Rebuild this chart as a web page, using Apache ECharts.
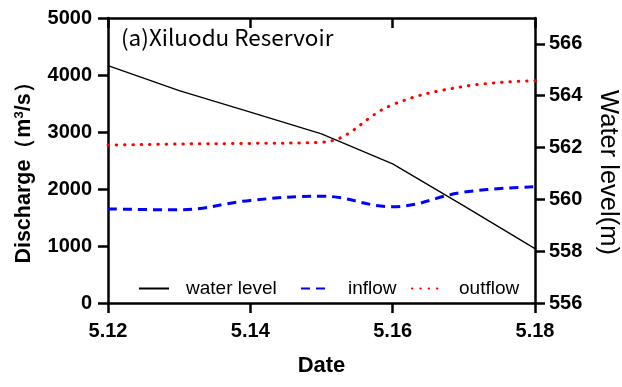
<!DOCTYPE html>
<html>
<head>
<meta charset="utf-8">
<script src="https://cdn.jsdelivr.net/npm/echarts@6/dist/echarts.min.js"></script>
<style>
  html, body { margin: 0; padding: 0; background: #fff; }
  #chart { width: 622px; height: 387px; }
</style>
</head>
<body>
<div id="chart"></div>
<script>
// Daily observations, Xiluodu Reservoir
const dates = ['5.12', '5.13', '5.14', '5.15', '5.16', '5.17', '5.18'];
const waterLevel = [565.16, 564.2, 563.37, 562.53, 561.37, 559.75, 558.1]; // m
const inflow = [1650, 1635, 1800, 1875, 1690, 1945, 2040];   // m³/s
const outflow = [2770, 2790, 2800, 2820, 3480, 3800, 3900];  // m³/s
const levelTicks = [556, 558, 560, 562, 564, 566];

const AX = '#000';
const LW = 2.5;
const labelFont = { fontFamily: 'Liberation Sans, Arial, sans-serif', fontWeight: 'bold', fontSize: 20, color: '#000' };
const legendFont = { fontFamily: 'Liberation Sans, Arial, sans-serif', fontSize: 19, color: '#000' };

function legendAt(left, name) {
  return {
    left: left, top: 279, padding: 0,
    itemWidth: 30, itemHeight: 14,
    data: [name],
    selectedMode: false,
    itemStyle: { color: 'transparent', borderWidth: 0 },
    formatter: '{a|{name}}',
    textStyle: Object.assign({}, legendFont, { rich: { a: Object.assign({}, legendFont, { padding: [0, 0, 0, 12] }) } })
  };
}

const chart = echarts.init(document.getElementById('chart'), null, { renderer: 'canvas' });
chart.setOption({
  animation: false,
  backgroundColor: '#fff',
  title: {
    text: '(a)Xiluodu Reservoir',
    left: 121, top: 26, padding: 0,
    textStyle: { fontFamily: 'Noto Sans CJK SC, sans-serif', fontWeight: 'normal', fontSize: 22.5, color: '#000' }
  },
  grid: { left: 108, right: 87, top: 18, bottom: 84, containLabel: false, outerBoundsMode: 'none' },
  legend: [legendAt(138, 'water level'), legendAt(300, 'inflow'), legendAt(411, 'outflow')],
  xAxis: [
    {
      type: 'category', data: dates, boundaryGap: false, position: 'bottom',
      name: 'Date', nameLocation: 'middle', nameGap: 52,
      nameTextStyle: { fontFamily: 'Liberation Sans, Arial, sans-serif', fontWeight: 'bold', fontSize: 22, color: '#000' },
      axisLine: { show: true, lineStyle: { color: AX, width: LW } },
      axisTick: { show: true, interval: 1, length: 10, lineStyle: { color: '#000', width: LW } },
      axisLabel: Object.assign({ interval: 1, margin: 18 }, labelFont),
      splitLine: { show: false }
    },
    {
      type: 'category', data: dates, boundaryGap: false, position: 'top',
      axisLine: { show: true, lineStyle: { color: AX, width: LW } },
      axisTick: { show: true, inside: true, interval: 1, length: 10, lineStyle: { color: '#000', width: LW } },
      axisLabel: { show: false },
      splitLine: { show: false }
    }
  ],
  yAxis: [
    {
      type: 'value', min: 0, max: 5000, interval: 1000, position: 'left',
      name: 'Discharge（m{sup|3}/s）', nameLocation: 'middle', nameGap: 72, nameRotate: 90,
      nameTextStyle: {
        fontFamily: 'Liberation Sans, Arial, sans-serif', fontWeight: 'bold', fontSize: 21.5, color: '#000',
        padding: [0, 14, 0, 0],
        rich: { sup: { fontFamily: 'Liberation Sans, Arial, sans-serif', fontWeight: 'bold', fontSize: 13, color: '#000', verticalAlign: 'top', padding: [0, 0, 10, 0] } }
      },
      axisLine: { show: true, lineStyle: { color: AX, width: LW } },
      axisTick: { show: true, length: 10, lineStyle: { color: '#000', width: LW } },
      axisLabel: Object.assign({ margin: 16, formatter: v => String(v) }, labelFont),
      splitLine: { show: false }
    },
    {
      type: 'value', min: 556, max: 567, position: 'right',
      name: 'Water level(m)', nameLocation: 'middle', nameGap: 60, nameRotate: -90,
      nameTextStyle: { fontFamily: 'Liberation Sans, Arial, sans-serif', fontWeight: 'normal', fontSize: 25.5, color: '#000', padding: [0, 0, 0, 24] },
      axisLine: { show: true, lineStyle: { color: AX, width: LW } },
      axisTick: { show: true, length: 10, customValues: levelTicks, lineStyle: { color: '#000', width: LW } },
      axisLabel: Object.assign({ margin: 14, customValues: levelTicks }, labelFont),
      splitLine: { show: false }
    }
  ],
  series: [
    {
      name: 'water level', type: 'line', xAxisIndex: 0, yAxisIndex: 1, data: waterLevel,
      symbol: 'none', smooth: false,
      lineStyle: { color: '#000', width: 1.3 }, itemStyle: { color: '#000' }
    },
    {
      name: 'inflow', type: 'line', xAxisIndex: 0, yAxisIndex: 0, data: inflow,
      symbol: 'none', smooth: 0.4,
      lineStyle: { color: '#0000ff', width: 3, type: [9, 6] }, itemStyle: { color: '#0000ff' }
    },
    {
      name: 'outflow', type: 'line', xAxisIndex: 0, yAxisIndex: 0, data: outflow,
      symbol: 'none', smooth: 0.4,
      lineStyle: { color: '#ff0000', width: 3, type: [0.5, 7.8], cap: 'round' }, itemStyle: { color: '#ff0000' }
    }
  ]
});
</script>
</body>
</html>
